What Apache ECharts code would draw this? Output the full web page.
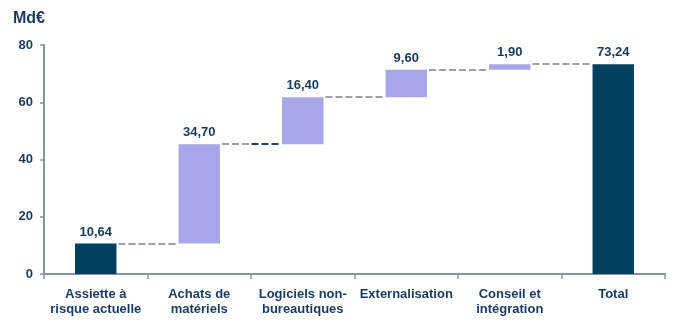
<!DOCTYPE html>
<html>
<head>
<meta charset="utf-8">
<script src="https://cdn.jsdelivr.net/npm/echarts@6/dist/echarts.min.js"></script>
<style>
  html, body { margin: 0; padding: 0; background: #fff; }
  #chart { width: 676px; height: 329px; }
</style>
</head>
<body>
<div id="chart"></div>
<script>
// Waterfall: current exposure, the increments by spending area, then the total
const categories = ['Assiette à\nrisque actuelle', 'Achats de\nmatériels', 'Logiciels non-\nbureautiques', 'Externalisation', 'Conseil et\nintégration', 'Total'];
const steps = [10.64, 34.70, 16.40, 9.60, 1.90];   // first = starting bar, rest = increments
const totalValue = 73.24;
const yTicks = [0, 20, 40, 60, 80];

const NAVY = '#00405f';
const LAVENDER = '#a6a6e8';
const TEXT = '#173a5e';
const AXIS = '#8a93a3';
const DASH = '#9da1aa';
const DASH_DARK = '#1f4468';

// cumulative levels reached after each step
const cumulative = [];
steps.reduce((acc, v, i) => { cumulative[i] = acc + v; return acc + v; }, 0);

const baseData = steps.map((v, i) => (i === 0 ? 0 : cumulative[i - 1]));
baseData.push(0);
const visibleData = steps.map((v, i) => ({
  value: v,
  itemStyle: { color: i === 0 ? NAVY : LAVENDER }
}));
visibleData.push({ value: totalValue, itemStyle: { color: NAVY } });

const fmt = v => v.toFixed(2).replace('.', ',');

const chart = echarts.init(document.getElementById('chart'), null, { renderer: 'canvas' });
chart.setOption({
  animation: false,
  textStyle: { fontFamily: 'Liberation Sans, Arial, sans-serif' },
  grid: { left: 44, right: 11, top: 45, bottom: 55 },
  graphic: [{
    type: 'text', left: 13, top: 11,
    style: { text: 'Md€', fontSize: 16, fontWeight: 'bold', fill: TEXT, fontFamily: 'Liberation Sans, Arial, sans-serif' }
  }],
  xAxis: {
    type: 'category',
    data: categories,
    axisLine: { lineStyle: { color: AXIS, width: 2 } },
    axisTick: { show: true, length: 5, lineStyle: { color: AXIS, width: 1.5 } },
    axisLabel: {
      interval: 0, color: TEXT, fontWeight: 'bold', fontSize: 13,
      lineHeight: 15, margin: 13
    }
  },
  yAxis: {
    type: 'value',
    min: yTicks[0], max: yTicks[yTicks.length - 1], interval: 20,
    axisLine: { show: true, lineStyle: { color: AXIS, width: 2 } },
    axisTick: { show: true, length: 4, lineStyle: { color: AXIS, width: 1.5 } },
    axisLabel: { color: TEXT, fontWeight: 'bold', fontSize: 13, margin: 11 },
    splitLine: { show: false }
  },
  series: [
    {
      type: 'bar', stack: 'w', data: baseData, barWidth: '40%',
      itemStyle: { color: 'transparent' }, silent: true
    },
    {
      type: 'bar', stack: 'w', data: visibleData, barWidth: '40%',
      label: {
        show: true, position: 'top', distance: 5,
        color: TEXT, fontWeight: 'bold', fontSize: 13,
        formatter: p => fmt(p.value)
      }
    },
    {
      // dashed connectors between consecutive bars at the running level
      type: 'custom',
      coordinateSystem: 'cartesian2d',
      data: cumulative.map((c, i) => [i, c]),
      z: 3,
      renderItem: (params, api) => {
        const i = api.value(0);
        const level = api.value(1);
        const p = api.coord([i, level]);
        const q = api.coord([i + 1, level]);
        const band = api.size([1, 0])[0];
        const half = band * 0.2;
        const x1 = p[0] + half + 2, x2 = q[0] - half - 3;
        const y = Math.round(p[1]);
        const style = c => ({ stroke: c, lineWidth: 2, lineDash: [7, 3] });
        if (i === 1) {
          const xm = x1 + (x2 - x1) / 2;
          return {
            type: 'group',
            children: [
              { type: 'line', shape: { x1, y1: y, x2: xm, y2: y }, style: style(DASH) },
              { type: 'line', shape: { x1: xm + 1, y1: y, x2, y2: y }, style: style(DASH_DARK) }
            ]
          };
        }
        return { type: 'line', shape: { x1, y1: y, x2, y2: y }, style: style(DASH) };
      }
    }
  ]
});
</script>
</body>
</html>
